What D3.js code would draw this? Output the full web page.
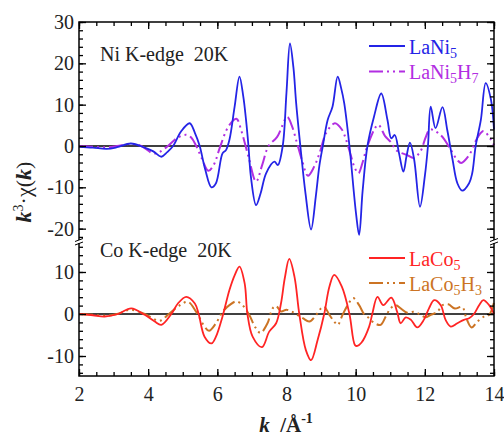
<!DOCTYPE html>
<html>
<head>
<meta charset="utf-8">
<script src="https://d3js.org/d3.v7.min.js"></script>
<style>
body { margin: 0; background: #fff; }
text { font-family: "Liberation Serif", "Times New Roman", serif; }
</style>
</head>
<body>
<script>

var w = 504, h = 437;

// Ni K-edge, LaNi5 (solid blue)
var kNi5 = [2.0, 2.4, 2.8, 3.1, 3.5, 3.9, 4.15, 4.38, 4.55, 4.72, 4.95, 5.2, 5.35, 5.49, 5.65, 5.83, 5.96, 6.15, 6.25, 6.35, 6.5, 6.64, 6.75, 6.83, 6.9, 6.97, 7.12, 7.25, 7.41, 7.65, 7.75, 7.89, 8.0, 8.1, 8.2, 8.28, 8.42, 8.55, 8.71, 8.85, 8.95, 9.05, 9.19, 9.33, 9.48, 9.58, 9.67, 9.82, 10.01, 10.1, 10.2, 10.34, 10.53, 10.74, 10.92, 11.03, 11.13, 11.25, 11.38, 11.47, 11.57, 11.69, 11.86, 12.0, 12.09, 12.17, 12.31, 12.51, 12.65, 12.8, 12.94, 13.08, 13.28, 13.37, 13.47, 13.62, 13.76, 13.91, 14.0];
var laNi5 = [-0.2, -0.4, -0.7, -0.3, 0.6, -0.4, -1.3, -2.6, -1.5, 0, 3.5, 5.5, 3.2, 0, -5.7, -10.0, -9.0, -1.8, -1.0, 1.5, 9.5, 16.8, 12, 6.3, 0, -7.4, -14.3, -11.5, -6.6, -3.8, -4.6, 0, 13, 24.8, 19, 10.3, -1.6, -11.5, -20.2, -12, -4.8, 0, 6.3, 9.5, 16.8, 14, 10.3, 0, -16.3, -21.5, -11, 0, 7.1, 12.7, 6.3, 1.85, 2.66, -1.6, -6.2, -2.5, 0.8, -3.2, -14.7, -7.3, 0, 9.5, 4.3, 9.4, 3.8, -3.2, -9.0, -10.8, -9.0, -6.6, 0, 6.3, 15.2, 11.3, 4];

// Ni K-edge, LaNi5H7 (dash-dot-dot violet)
var kNi5H7 = [2.0, 2.4, 2.8, 3.1, 3.5, 3.8, 4.14, 4.3, 4.57, 4.85, 5.1, 5.25, 5.39, 5.55, 5.74, 5.9, 6.08, 6.32, 6.55, 6.7, 6.9, 7.12, 7.3, 7.48, 7.73, 8.02, 8.15, 8.3, 8.45, 8.62, 8.8, 8.96, 9.15, 9.4, 9.6, 9.72, 9.85, 9.96, 10.08, 10.2, 10.34, 10.65, 10.85, 11.01, 11.2, 11.49, 11.68, 11.88, 12.02, 12.15, 12.46, 12.75, 12.94, 13.05, 13.28, 13.45, 13.55, 13.7, 13.89, 14.0];
var laNi5H7 = [0, -0.2, -0.3, 0, 0.5, 0, -1.8, -1.6, 0, 2, 2.7, 2, 0, -3.0, -6.0, -4.5, -0.2, 4.7, 6.6, 3.5, -2.6, -8.6, -4.5, 0, 2.2, 7.0, 5, 0.8, -3.5, -7.2, -5, -1.6, 3.2, 5.5, 4, 1.6, -2, -5.0, -6.6, -4, 0, 5.1, 2.4, 1.0, -1.2, -2.2, -2.9, -1.2, 2.0, 4.0, 2.6, -0.9, -3.4, -4.1, -2.2, 0.8, 2.4, 3.6, 1.8, 0.2];

// Co K-edge, LaCo5 (solid red)
var kCo5 = [2.0, 2.4, 2.74, 3.13, 3.51, 3.9, 4.19, 4.38, 4.67, 4.86, 5.1, 5.35, 5.46, 5.63, 5.83, 5.96, 6.15, 6.35, 6.5, 6.64, 6.79, 6.87, 7.02, 7.29, 7.5, 7.7, 7.84, 7.95, 8.08, 8.23, 8.37, 8.56, 8.71, 8.9, 9.09, 9.24, 9.38, 9.6, 9.82, 9.98, 10.05, 10.17, 10.39, 10.48, 10.63, 10.8, 11.03, 11.2, 11.3, 11.45, 11.6, 11.78, 11.97, 12.12, 12.27, 12.46, 12.6, 12.75, 12.94, 13.13, 13.28, 13.42, 13.57, 13.69, 13.86, 14.0];
var laCo5 = [0, -0.3, -0.6, 0, 1.35, -0.2, -1.8, -2.6, 0, 2.5, 4.1, 2.5, 0, -5.4, -7.0, -5.4, -0.6, 5.7, 9.2, 11.3, 7.3, 0, -5.4, -7.9, -4.2, -2.2, 2.5, 8.5, 13.1, 8.9, 0, -8.6, -11.0, -6.2, 0, 6.5, 9.3, 6.5, 0, -7.4, -7.6, -6.8, -3.0, 0, 4.1, 2.1, 3.9, 0.5, -2.2, -0.8, -1.4, -3.2, -1.4, 1.35, 3.3, 2.1, -1.4, -3.0, -2.2, -1.4, -1.0, 0, 2.1, 3.3, 2.1, 0];

// Co K-edge, LaCo5H3 (dash-dot-dot orange)
var kCo5H3 = [2.0, 2.4, 2.8, 3.1, 3.5, 3.9, 4.33, 4.6, 4.9, 5.15, 5.39, 5.63, 5.76, 5.96, 6.15, 6.35, 6.55, 6.73, 6.92, 7.1, 7.25, 7.45, 7.6, 7.7, 7.84, 8.0, 8.17, 8.47, 8.66, 8.86, 9.0, 9.09, 9.24, 9.38, 9.48, 9.62, 9.77, 9.93, 10.1, 10.24, 10.39, 10.53, 10.72, 10.87, 11.01, 11.16, 11.3, 11.49, 11.69, 11.88, 12.02, 12.17, 12.36, 12.51, 12.68, 12.87, 13.08, 13.2, 13.35, 13.52, 13.71, 13.86, 14.0];
var laCo5H3 = [0, -0.2, -0.4, 0, 1.0, 0, -1.6, 0, 2.0, 2.9, 0.5, -3.0, -4.0, -2.2, 0.5, 2.1, 3.0, 2.1, -0.2, -3.2, -4.5, -2.2, 1.35, 1.9, 0.6, 1.0, 0.5, -1.0, -1.8, -0.2, 1.35, 1.75, -0.2, -1.8, -2.6, -0.2, 2.1, 3.8, 2.1, 0, -1.0, -2.1, -2.6, -0.6, 1.35, 2.1, 1.35, 0.3, 0.5, -0.2, -0.8, -0.2, 0.5, 2.1, 2.3, 1.3, 1.7, -1.0, -3.2, -1.8, -0.6, -0.2, 2.8];

var xTicks = [2, 4, 6, 8, 10, 12, 14];
var yTopTicks = [-20, -10, 0, 10, 20, 30];
var yBotTicks = [-10, 0, 10];

var pLeft = 79, pRight = 494, pTop = 22, pBottom = 376, breakY = 242;

var svg = d3.select("body").append("svg").attr("width", w).attr("height", h);

var x = d3.scaleLinear().domain([2, 14]).range([pLeft, pRight]);
var yTop = d3.scaleLinear().domain([-23.23, 30]).range([breakY, pTop]);
var yBot = d3.scaleLinear().domain([-14.76, 17.14]).range([pBottom, breakY]);

var blue = "#2424e6", violet = "#b22ee2", red = "#ff2424", orange = "#cc7424";
var dashDot = "14,4,2,4,2,4";

function pairs(ks, vs){ return ks.map(function(k, i){ return [k, vs[i]]; }); }

function drawLine(data, y, color, dash, width){
  var line = d3.line()
    .x(function(d){ return x(d[0]); })
    .y(function(d){ return y(d[1]); })
    .curve(d3.curveCatmullRom.alpha(0.5));
  svg.append("path").datum(data)
    .attr("d", line)
    .attr("fill", "none")
    .attr("stroke", color)
    .attr("stroke-width", width)
    .attr("stroke-dasharray", dash);
}

// zero lines
[yTop(0), yBot(0)].forEach(function(y0){
  svg.append("line").attr("x1", pLeft).attr("x2", pRight)
    .attr("y1", y0).attr("y2", y0)
    .attr("stroke", "#000").attr("stroke-width", 1.4);
});

drawLine(pairs(kNi5H7, laNi5H7), yTop, violet, dashDot, 2);
drawLine(pairs(kNi5, laNi5), yTop, blue, null, 1.8);
drawLine(pairs(kCo5H3, laCo5H3), yBot, orange, dashDot, 2);
drawLine(pairs(kCo5, laCo5), yBot, red, null, 1.8);

// axes: ticks point inward
function styleAxis(g){
  g.select(".domain").remove();
  g.selectAll("line").attr("stroke", "#000").attr("stroke-width", 1.3);
  g.selectAll("text").attr("font-size", "20px").attr("fill", "#222");
}
var plain = function(d){ return String(d); };

var minorX = d3.range(2, 14.01, 0.5);
svg.append("g").attr("transform", "translate(0," + pBottom + ")")
  .call(d3.axisBottom(x).tickValues(minorX).tickSize(-4).tickFormat(""))
  .call(styleAxis);
svg.append("g").attr("transform", "translate(0," + pBottom + ")")
  .call(d3.axisBottom(x).tickValues(xTicks).tickSize(-7).tickPadding(11).tickFormat(plain))
  .call(styleAxis);
svg.append("g").attr("transform", "translate(0," + pTop + ")")
  .call(d3.axisTop(x).tickValues(minorX).tickSize(-4).tickFormat(""))
  .call(styleAxis);
svg.append("g").attr("transform", "translate(0," + pTop + ")")
  .call(d3.axisTop(x).tickValues(xTicks).tickSize(-7).tickFormat(""))
  .call(styleAxis);

var minorTop = d3.range(-22, 30.1, 2);
var minorBot = d3.range(-14, 16.1, 2);

[[yTop, minorTop, yTopTicks], [yBot, minorBot, yBotTicks]].forEach(function(p){
  svg.append("g").attr("transform", "translate(" + pLeft + ",0)")
    .call(d3.axisLeft(p[0]).tickValues(p[1]).tickSize(-4).tickFormat(""))
    .call(styleAxis);
  svg.append("g").attr("transform", "translate(" + pLeft + ",0)")
    .call(d3.axisLeft(p[0]).tickValues(p[2]).tickSize(-7).tickPadding(5).tickFormat(plain))
    .call(styleAxis);
  svg.append("g").attr("transform", "translate(" + pRight + ",0)")
    .call(d3.axisRight(p[0]).tickValues(p[1]).tickSize(-4).tickFormat(""))
    .call(styleAxis);
  svg.append("g").attr("transform", "translate(" + pRight + ",0)")
    .call(d3.axisRight(p[0]).tickValues(p[2]).tickSize(-7).tickFormat(""))
    .call(styleAxis);
});

// frame
svg.append("rect").attr("x", pLeft).attr("y", pTop)
  .attr("width", pRight - pLeft).attr("height", pBottom - pTop)
  .attr("fill", "none").attr("stroke", "#000").attr("stroke-width", 1.5);

// axis break marks
[pLeft, pRight].forEach(function(bx){
  svg.append("rect").attr("x", bx - 4).attr("y", breakY - 2).attr("width", 8).attr("height", 3).attr("fill", "#fff");
  [-2, 1.5].forEach(function(o){
    svg.append("line").attr("x1", bx - 4).attr("x2", bx + 4)
      .attr("y1", breakY + o + 1.5).attr("y2", breakY + o - 1.5)
      .attr("stroke", "#000").attr("stroke-width", 1);
  });
});

// panel titles
svg.append("text").attr("x", 100).attr("y", 61).attr("font-size", "20px")
  .style("white-space", "pre").attr("fill", "#222").text("Ni K-edge  20K");
svg.append("text").attr("x", 100).attr("y", 257).attr("font-size", "20px")
  .style("white-space", "pre").attr("fill", "#222").text("Co K-edge  20K");

// legends
function legendItem(ly, color, dash, base, sub1, mid, sub2){
  svg.append("line").attr("x1", 369).attr("x2", 405).attr("y1", ly).attr("y2", ly)
    .attr("stroke", color).attr("stroke-width", 2).attr("stroke-dasharray", dash);
  var t = svg.append("text").attr("x", 409).attr("y", ly + 7.5)
    .attr("font-size", "20px").attr("fill", color);
  t.append("tspan").text(base);
  t.append("tspan").attr("font-size", "14px").attr("dy", 4).text(sub1);
  if (mid) {
    t.append("tspan").attr("dy", -4).text(mid);
    t.append("tspan").attr("font-size", "14px").attr("dy", 4).text(sub2);
  }
}
legendItem(46, blue, null, "LaNi", "5");
legendItem(71.5, violet, dashDot, "LaNi", "5", "H", "7");
legendItem(258, red, null, "LaCo", "5");
legendItem(283, orange, dashDot, "LaCo", "5", "H", "3");

// axis titles
var yl = svg.append("text")
  .attr("transform", "translate(31,192) rotate(-90)")
  .attr("text-anchor", "middle").attr("font-size", "22px").attr("fill", "#222");
yl.append("tspan").attr("font-weight", "bold").attr("font-style", "italic").text("k");
yl.append("tspan").attr("font-size", "14px").attr("dy", -8).text("3");
yl.append("tspan").attr("dy", 8).text("\u00b7\u03c7(");
yl.append("tspan").attr("font-weight", "bold").attr("font-style", "italic").text("k");
yl.append("tspan").text(")");

var xl = svg.append("text").attr("x", 286).attr("y", 432)
  .attr("text-anchor", "middle").attr("font-size", "21px")
  .attr("font-weight", "bold").attr("fill", "#222").style("white-space", "pre");
xl.append("tspan").attr("font-style", "italic").text("k");
xl.append("tspan").text("  /\u00c5");
xl.append("tspan").attr("font-size", "14px").attr("dy", -9).text("-1");

</script>
</body>
</html>
